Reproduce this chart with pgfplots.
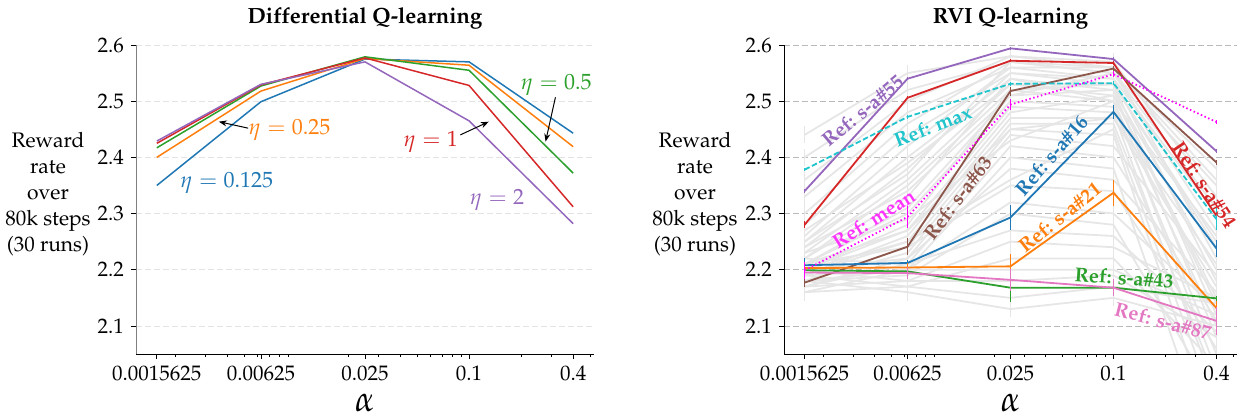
\documentclass[border=0pt]{standalone}
\usepackage[T1]{fontenc}
\usepackage{mathpazo}
\usepackage{pgfplots}
\usepackage{pgfplotstable}
\pgfplotsset{compat=1.18}
\usetikzlibrary{arrows.meta}

\definecolor{cBlue}{HTML}{1F77B4}
\definecolor{cOrange}{HTML}{FF7F0E}
\definecolor{cGreen}{HTML}{2CA02C}
\definecolor{cRed}{HTML}{D62728}
\definecolor{cPurple}{HTML}{9467BD}
\definecolor{cBrown}{HTML}{8C564B}
\definecolor{cPink}{HTML}{E377C2}
\definecolor{cCyan}{HTML}{1FC4CC}
\definecolor{cMag}{HTML}{FF00FF}
\definecolor{cGray}{HTML}{E6E6E6}

% background runs of the RVI panel: one column per run, one row per step size
\pgfplotstableread{
x l1 l2 l3 l4 l5 l6 l7 l8 l9 l10 l11 l12 l13 l14 l15 l16 l17 l18 l19 l20 l21 l22 l23 l24 l25 l26 l27 l28 l29 l30 l31 l32 l33 l34 l35 l36 l37 l38 l39 l40
0.0015625 2.44 2.40 2.36 2.33 2.30 2.28 2.26 2.25 2.24 2.23 2.22 2.22 2.21 2.21 2.20 2.20 2.19 2.19 2.18 2.18 2.17 2.17 2.16 2.20 2.21 2.19 2.18 2.22 2.20 2.19 2.18 2.17 2.16 2.18 2.23 2.24 2.27 2.21 2.25 2.20
0.00625 2.55 2.52 2.50 2.48 2.46 2.44 2.42 2.40 2.38 2.36 2.35 2.33 2.31 2.30 2.28 2.27 2.26 2.25 2.24 2.23 2.22 2.21 2.20 2.22 2.24 2.20 2.19 2.21 2.18 2.17 2.20 2.18 2.17 2.16 2.29 2.34 2.39 2.27 2.37 2.25
0.025 2.58 2.57 2.58 2.56 2.57 2.55 2.56 2.54 2.55 2.53 2.52 2.54 2.51 2.50 2.52 2.49 2.48 2.47 2.46 2.45 2.44 2.42 2.40 2.38 2.35 2.32 2.30 2.27 2.25 2.22 2.20 2.18 2.15 2.13 2.43 2.51 2.53 2.45 2.57 2.36
0.1 2.56 2.55 2.57 2.54 2.55 2.53 2.56 2.52 2.54 2.51 2.53 2.50 2.52 2.49 2.50 2.48 2.51 2.47 2.46 2.44 2.42 2.40 2.38 2.36 2.34 2.30 2.28 2.26 2.24 2.22 2.20 2.19 2.17 2.15 2.50 2.55 2.53 2.47 2.56 2.45
0.4 2.38 2.35 2.33 2.30 2.27 2.25 2.22 2.20 2.18 2.15 2.12 2.10 2.08 2.05 2.02 1.98 2.14 2.17 2.00 1.90 2.19 2.11 1.85 2.16 2.06 2.13 1.97 2.09 2.15 2.03 2.12 2.08 2.14 2.10 2.26 2.31 2.24 2.21 2.36 1.95
}\graydata

\newcommand{\lbl}{\fontsize{10}{12}\selectfont\bfseries}
\newcommand{\etafont}{\fontsize{11}{13}\selectfont}
\begin{document}
\begin{tikzpicture}
\useasboundingbox (-68pt,-31.5pt) rectangle (553pt,177pt);

% Differential Q-learning
\begin{axis}[at={(0pt,0pt)}, anchor=south west,
  xmode=log, scale only axis, width=229pt, height=154.5pt,
  xmin=0.001184, xmax=0.528, ymin=2.05, ymax=2.6,
  xtick={0.0015625,0.00625,0.025,0.1,0.4},
  xticklabels={0.0015625,0.00625,0.025,0.1,0.4},
  minor xtick={0.002,0.003,0.004,0.005,0.006,0.007,0.008,0.009,0.02,0.03,0.04,0.05,0.06,0.07,0.08,0.09,0.2,0.3,0.5},
  ytick={2.1,2.2,2.3,2.4,2.5,2.6},
  yticklabels={2.1,2.2,2.3,2.4,2.5,2.6},
  axis x line*=bottom, axis y line*=left,
  y axis line style={gray},
  tick align=outside, major tick length=2.5pt, minor tick length=1.5pt,
  tick style={black, line width=0.4pt},
  ymajorgrids,
  major grid style={gray!22, dash pattern=on 3pt off 1.5pt, line width=0.4pt},
  tick label style={font=\fontsize{10.5}{12}\selectfont},
  every axis plot/.append style={line width=0.75pt}]
\addplot[cBlue] coordinates {(0.0015625,2.350) (0.00625,2.499) (0.025,2.575) (0.1,2.570) (0.4,2.443)};
\addplot[cOrange] coordinates {(0.0015625,2.400) (0.00625,2.518) (0.025,2.576) (0.1,2.564) (0.4,2.419)};
\addplot[cGreen] coordinates {(0.0015625,2.417) (0.00625,2.527) (0.025,2.579) (0.1,2.555) (0.4,2.372)};
\addplot[cRed] coordinates {(0.0015625,2.425) (0.00625,2.529) (0.025,2.577) (0.1,2.528) (0.4,2.312)};
\addplot[cPurple] coordinates {(0.0015625,2.429) (0.00625,2.530) (0.025,2.570) (0.1,2.465) (0.4,2.282)};
\node[text=cBlue, font=\etafont] at (axis cs:0.00397,2.354) {$\eta = 0.125$};
\node[text=cOrange, font=\etafont] at (axis cs:0.00915,2.449) {$\eta = 0.25$};
\node[text=cRed, font=\etafont] at (axis cs:0.060,2.427) {$\eta = 1$};
\node[text=cGreen, font=\etafont] at (axis cs:0.319,2.529) {$\eta = 0.5$};
\node[text=cPurple, font=\etafont] at (axis cs:0.145,2.324) {$\eta = 2$};
\draw[-{Stealth[length=4pt,width=3pt]}, line width=0.5pt] (axis cs:0.00527,2.452) -- (axis cs:0.00357,2.4635);
\draw[-{Stealth[length=4pt,width=3pt]}, line width=0.5pt] (axis cs:0.089,2.440) -- (axis cs:0.130,2.4635);
\draw[-{Stealth[length=4pt,width=3pt]}, line width=0.5pt] (axis cs:0.316,2.507) -- (axis cs:0.277,2.428);
\end{axis}

% RVI Q-learning
\begin{axis}[at={(324pt,0pt)}, anchor=south west,
  xmode=log, scale only axis, width=226.5pt, height=154.5pt,
  xmin=0.001184, xmax=0.528, ymin=2.05, ymax=2.6,
  xtick={0.0015625,0.00625,0.025,0.1,0.4},
  xticklabels={0.0015625,0.00625,0.025,0.1,0.4},
  minor xtick={0.002,0.003,0.004,0.005,0.006,0.007,0.008,0.009,0.02,0.03,0.04,0.05,0.06,0.07,0.08,0.09,0.2,0.3,0.5},
  ytick={2.1,2.2,2.3,2.4,2.5,2.6},
  yticklabels={2.1,2.2,2.3,2.4,2.5,2.6},
  axis x line*=bottom, axis y line*=left,
  tick align=outside, major tick length=2.5pt, minor tick length=1.5pt,
  tick style={black, line width=0.4pt},
  ymajorgrids,
  major grid style={gray!55, dash pattern=on 3pt off 1.5pt, line width=0.4pt},
  tick label style={font=\fontsize{10.5}{12}\selectfont},
  every axis plot/.append style={line width=0.9pt},
  clip mode=individual]
\pgfplotsinvokeforeach{1,...,40}{
  \addplot[cGray, line width=0.9pt, error bars/y dir=both, error bars/y fixed=0.015,
    error bars/error mark=none] table[x index=0, y index=#1] {\graydata};
}
\addplot[cPurple, error bars/y dir=both, error bars/y explicit, error bars/error mark=none] coordinates {(0.0015625,2.340) +- (0,0.004) (0.00625,2.540) +- (0,0.003) (0.025,2.594) +- (0,0.003) (0.1,2.575) +- (0,0.003) (0.4,2.411) +- (0,0.004)};
\addplot[cRed, error bars/y dir=both, error bars/y explicit, error bars/error mark=none] coordinates {(0.0015625,2.280) +- (0,0.006) (0.00625,2.506) +- (0,0.003) (0.025,2.572) +- (0,0.003) (0.1,2.568) +- (0,0.004) (0.4,2.296) +- (0,0.006)};
\addplot[cBrown, error bars/y dir=both, error bars/y explicit, error bars/error mark=none] coordinates {(0.0015625,2.177) +- (0,0.007) (0.00625,2.241) +- (0,0.015) (0.025,2.518) +- (0,0.008) (0.1,2.558) +- (0,0.005) (0.4,2.391) +- (0,0.005)};
\addplot[cCyan, dash pattern=on 2.8pt off 1.3pt, error bars/y dir=both, error bars/y explicit, error bars/error mark=none, error bars/error bar style={solid}] coordinates {(0.0015625,2.378) +- (0,0.003) (0.00625,2.472) +- (0,0.003) (0.025,2.531) +- (0,0.004) (0.1,2.532) +- (0,0.004) (0.4,2.290) +- (0,0.02)};
\addplot[cBlue, error bars/y dir=both, error bars/y explicit, error bars/error mark=none] coordinates {(0.0015625,2.208) +- (0,0.012) (0.00625,2.212) +- (0,0.006) (0.025,2.293) +- (0,0.022) (0.1,2.481) +- (0,0.012) (0.4,2.238) +- (0,0.015)};
\addplot[cOrange, error bars/y dir=both, error bars/y explicit, error bars/error mark=none] coordinates {(0.0015625,2.203) +- (0,0.006) (0.00625,2.204) +- (0,0.008) (0.025,2.206) +- (0,0.022) (0.1,2.337) +- (0,0.023) (0.4,2.132) +- (0,0.012)};
\addplot[cGreen, error bars/y dir=both, error bars/y explicit, error bars/error mark=none] coordinates {(0.0015625,2.199) +- (0,0.005) (0.00625,2.197) +- (0,0.005) (0.025,2.168) +- (0,0.025) (0.1,2.168) +- (0,0.005) (0.4,2.149) +- (0,0.005)};
\addplot[cPink, error bars/y dir=both, error bars/y explicit, error bars/error mark=none] coordinates {(0.0015625,2.195) +- (0,0.008) (0.00625,2.194) +- (0,0.010) (0.025,2.182) +- (0,0.020) (0.1,2.168) +- (0,0.015) (0.4,2.109) +- (0,0.025)};
\addplot[cMag, dash pattern=on 0.75pt off 1.25pt, error bars/y dir=both, error bars/y explicit, error bars/error mark=none, error bars/error bar style={solid}] coordinates {(0.0015625,2.199) +- (0,0.015) (0.00625,2.294) +- (0,0.020) (0.025,2.494) +- (0,0.010) (0.1,2.548) +- (0,0.005) (0.4,2.463) +- (0,0.003)};
\node[rotate=40, text=cPurple, font=\lbl] at (axis cs:0.0034,2.483) {Ref: s-a\#55};
\node[rotate=21.4, text=cCyan, font=\lbl] at (axis cs:0.00877,2.456) {Ref: max};
\node[rotate=52.8, text=cBrown, font=\lbl] at (axis cs:0.01226,2.328) {Ref: s-a\#63};
\node[rotate=32.3, text=cMag!80, font=\lbl] at (axis cs:0.00396,2.291) {Ref: mean};
\node[rotate=48.8, text=cBlue, font=\lbl] at (axis cs:0.0433,2.404) {Ref: s-a\#16};
\node[rotate=38.5, text=cOrange, font=\lbl] at (axis cs:0.0484,2.294) {Ref: s-a\#21};
\node[rotate=-3.9, text=cGreen, font=\lbl] at (axis cs:0.1155,2.186) {Ref: s-a\#43};
\node[rotate=-14.5, text=cPink, font=\lbl] at (axis cs:0.195,2.109) {Ref: s-a\#87};
\node[rotate=-56.3, text=cRed, font=\lbl] at (axis cs:0.3415,2.352) {Ref: s-a\#54};
\end{axis}

% titles, axis labels
\node[font=\fontsize{11}{12}\selectfont\bfseries] at (114.5pt,168pt) {Differential Q-learning};
\node[font=\fontsize{11}{12}\selectfont\bfseries] at (437.25pt,168pt) {RVI Q-learning};
\node[font=\fontsize{18}{20}\selectfont] at (114.5pt,-24.5pt) {$\alpha$};
\node[font=\fontsize{18}{20}\selectfont] at (437.25pt,-24.5pt) {$\alpha$};
\node[align=center, font=\fontsize{10.5}{13}\selectfont] at (-44pt,80pt) {Reward\\rate\\over\\80k steps\\(30 runs)};
\node[align=center, font=\fontsize{10.5}{13}\selectfont] at (279.5pt,80pt) {Reward\\rate\\over\\80k steps\\(30 runs)};
\end{tikzpicture}
\end{document}
